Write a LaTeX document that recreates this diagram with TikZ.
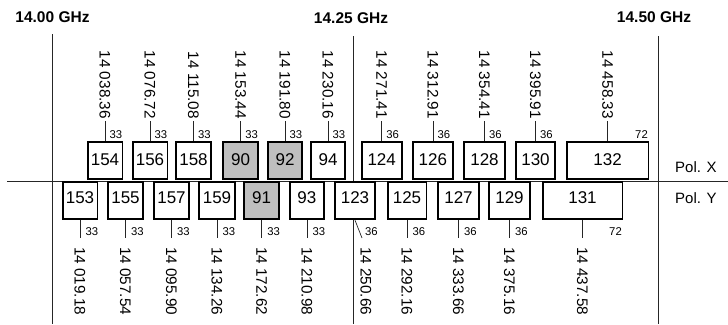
\documentclass[tikz,border=0pt]{standalone}
\usepackage{fontspec}
\setmainfont{Liberation Sans}
\begin{document}
\begin{tikzpicture}[x=1pt,y=-1pt,
  box/.style={draw, line width=1.8pt, fill=white, inner sep=0pt, font=\fontsize{17}{17}\selectfont},
  freq/.style={rotate=-90, inner sep=0.5pt, font=\fontsize{15.3}{15.3}\selectfont},
  small/.style={inner sep=0pt, font=\fontsize{11.3}{11.3}\selectfont},
  lead/.style={line width=0.7pt, black!85},
  axis/.style={line width=0.8pt, black!85},
  head/.style={inner sep=0pt, font=\fontsize{15.5}{15.5}\selectfont\bfseries},
  pol/.style={inner sep=0pt, anchor=west, font=\fontsize{15}{15}\selectfont}]
\useasboundingbox (0,0) rectangle (728,324);
% axes
\coordinate (hl) at (7,181.5); \coordinate (hr) at (728,181.5);
\coordinate (v1t) at (52.5,34); \coordinate (v1b) at (52.5,324);
\coordinate (v2t) at (353.5,36); \coordinate (v2b) at (353.5,324);
\coordinate (v3t) at (658.2,36); \coordinate (v3b) at (658.2,324);
\draw[axis] (v1t) -- (v1b);
\draw[axis] (v2t) -- (v2b);
\draw[axis] (v3t) -- (v3b);
\draw[axis] (hl) -- (hr);
% headers
\node[head] (h1) at (52.5,17) {14.00 GHz};
\node[head] (h2) at (351,18) {14.25 GHz};
\node[head] (h3) at (654,17) {14.50 GHz};
\node[pol] (px) at (675,167) {Pol. X};
\node[pol] (py) at (675,198) {Pol. Y};
% upper row (Pol. X)
\foreach \n/\a/\b/\f/\c/\q in {
  154/86.7/123.3/white/33/{14 038.36},
  156/131.7/168.3/white/33/{14 076.72},
  158/175/212/white/33/{14 115.08},
  90/222.3/259/black!25/33/{14 153.44},
  92/267.3/302.7/black!25/33/{14 191.80},
  94/310/346/white/33/{14 230.16},
  124/360.7/402.7/white/36/{14 271.41},
  126/411.7/454/white/36/{14 312.91},
  128/463/506/white/36/{14 354.41},
  130/515/556/white/36/{14 395.91},
  132/566/649.3/white/72/{14 458.33}}{
  \pgfmathsetmacro{\cx}{(\a+\b)/2}
  \node[box, fill=\f, minimum width={\b-\a-1.8}, minimum height=37.2, text depth=2.4pt] (b\n) at (\cx,160.5) {\n};
  \node[freq, anchor=east] (f\n) at (\cx,119.5) {\q};
  \coordinate (e\n) at (\cx,120.5);
  \draw[lead] (b\n.north) -- (e\n);
  \ifnum\n=132
    \node[small, anchor=east] (c\n) at (648,135) {\c};
  \else
    \node[small, anchor=west] (c\n) at (\cx+4.5,135) {\c};
  \fi
}
% lower row (Pol. Y)
\foreach \n/\a/\b/\f/\c/\q in {
  153/61.7/98.3/white/33/{14 019.18},
  155/107/144/white/33/{14 057.54},
  157/153/190/white/33/{14 095.90},
  159/198/236/white/33/{14 134.26},
  91/243.3/280/black!25/33/{14 172.62},
  93/288.7/325/white/33/{14 210.98},
  125/386.7/427.3/white/36/{14 292.16},
  127/437/480/white/36/{14 333.66},
  129/488/531/white/36/{14 375.16},
  131/541.7/623.3/white/72/{14 437.58}}{
  \pgfmathsetmacro{\cx}{(\a+\b)/2}
  \node[box, fill=\f, minimum width={\b-\a-1.8}, minimum height=37.5, text height=12pt, text depth=6pt] (b\n) at (\cx,200.6) {\n};
  \coordinate (e\n) at (\cx,238);
  \draw[lead] (b\n.south) -- (e\n);
  \node[freq, anchor=west] (f\n) at (\cx,246.5) {\q};
  \ifnum\n=131
    \node[small, anchor=east] (c\n) at (622,232) {\c};
  \else
    \node[small, anchor=west] (c\n) at (\cx+5.5,232) {\c};
  \fi
}
% channel 123 with slanted leader
\node[box, minimum width=39.6, minimum height=37.5, text height=12pt, text depth=6pt] (b123) at (355,200.6) {123};
\coordinate (e123) at (362,238);
\draw[lead] (b123.south) -- (e123);
\node[freq, anchor=west] (f123) at (366,246.5) {14 250.66};
\node[small, anchor=west] (c123) at (365,232) {36};
\end{tikzpicture}
\end{document}
